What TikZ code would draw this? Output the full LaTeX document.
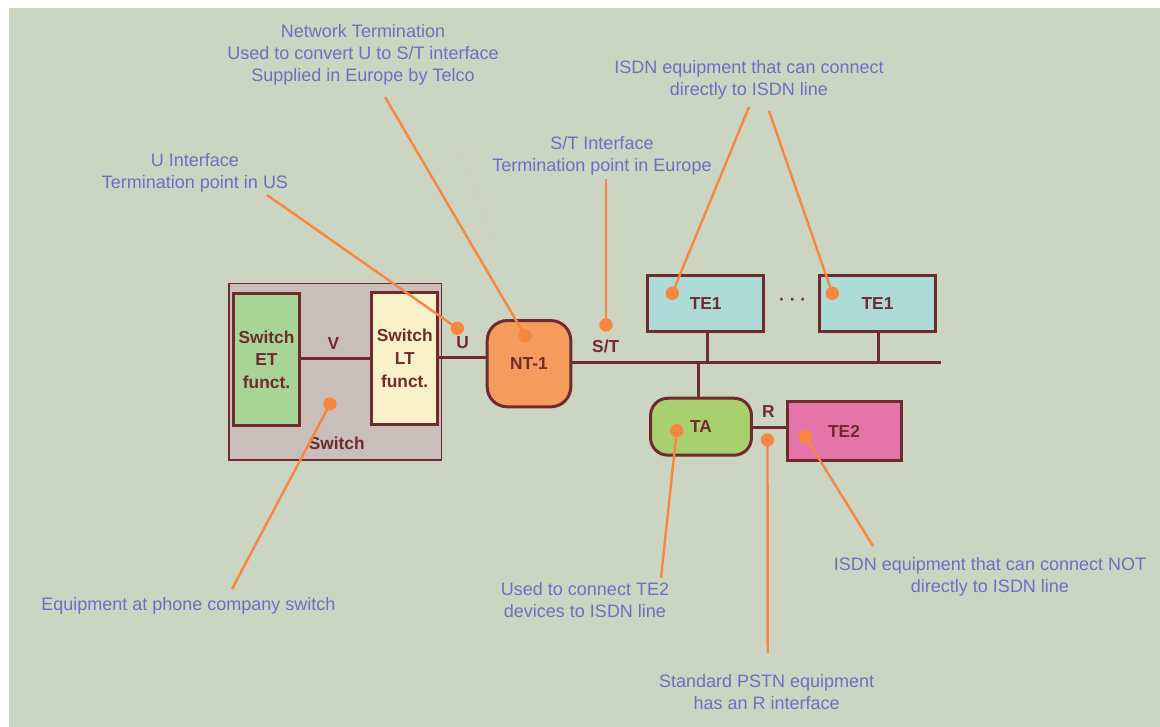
\documentclass[tikz,border=0pt]{standalone}
\usepackage{fontspec}
\setmainfont{Liberation Sans}
\usepackage{tikz}
\usetikzlibrary{positioning}

\definecolor{bgcol}{HTML}{CCD5C1}
\definecolor{brown}{HTML}{6E2C2E}
\definecolor{swgray}{HTML}{C9BEB9}
\definecolor{etgreen}{HTML}{A8D597}
\definecolor{ltcream}{HTML}{F8F0C8}
\definecolor{ntorange}{HTML}{F59B5B}
\definecolor{tecyan}{HTML}{AEDBD5}
\definecolor{tagreen}{HTML}{A9D06F}
\definecolor{tepink}{HTML}{E574A8}
\definecolor{noteblue}{HTML}{6E6EC4}
\definecolor{callout}{HTML}{F7873F}

\begin{document}
\begin{tikzpicture}[x=0.75pt, y=-0.75pt,
  unit/.style={draw=brown, line width=2.25pt, text=brown, align=center, inner sep=0pt,
    font=\bfseries\fontsize{13}{17}\selectfont},
  tag/.style={text=brown, inner sep=0pt, font=\bfseries\fontsize{13}{17}\selectfont},
  wire/.style={draw=brown, line width=2.25pt},
  note/.style={text=noteblue, align=center, inner sep=0pt, font=\fontsize{13.5}{16.5}\selectfont},
  spot/.style={circle, fill=callout, minimum size=10pt, inner sep=0pt},
  pointer/.style={draw=callout, line width=1.8pt}]
  \useasboundingbox (0,0) rectangle (1160,727);
  \fill[white] (0,0) rectangle (1160,727);
  \fill[bgcol] (9,8) rectangle (1160,727);

  \node[draw=brown, line width=1pt, fill=swgray, minimum width=159.5pt, minimum height=132.5pt] (switch) at (335.3,371.8) {};
  \node[unit, fill=etgreen, minimum width=49.5pt, minimum height=99pt] (et) at (266.5,359.5) {Switch\\ET\\funct.};
  \node[unit, fill=ltcream, minimum width=49.5pt, minimum height=99pt] (lt) at (404.7,358.2) {Switch\\LT\\funct.};
  \node[tag] (swlabel) at (336.7,443.3) {Switch};
  \node[unit, fill=ntorange, rounded corners=15pt, minimum width=62.7pt, minimum height=64.7pt] (nt) at (529,363.7) {NT-1};
  \node[unit, fill=tecyan, minimum width=87.2pt, minimum height=41.6pt] (te1a) at (705.7,303.5) {TE1};
  \node[unit, fill=tecyan, minimum width=87.2pt, minimum height=41.6pt] (te1b) at (877.5,303.5) {TE1};
  \node[tag] (more) at (792.7,302.3) {· · ·};
  \node[unit, fill=tagreen, rounded corners=13pt, minimum width=75.7pt, minimum height=42.7pt] (ta) at (701,426.7) {TA};
  \node[unit, fill=tepink, minimum width=85.5pt, minimum height=44pt] (te2) at (844,431) {TE2};

  \coordinate (vline) at (0,358.3);
  \coordinate (uline) at (0,357.7);
  \coordinate (rline) at (0,427.7);
  \coordinate (busend) at (941,362.7);
  \coordinate (stema) at (707,330);
  \coordinate (stemb) at (878.7,330);
  \coordinate (tap) at (698.3,362.7);
  \draw[wire] (et.east |- vline) -- (lt.west |- vline);
  \draw[wire] (lt.east |- uline) -- (nt.west |- uline);
  \draw[wire] (nt.east |- busend) -- (busend);
  \draw[wire] (stema |- te1a.south) -- (stema |- busend);
  \draw[wire] (stemb |- te1b.south) -- (stemb |- busend);
  \draw[wire] (tap) -- (tap |- ta.north);
  \draw[wire] (ta.east |- rline) -- (te2.west |- rline);

  \node[tag] (vlabel) at (333.3,343.3) {V};
  \node[tag] (ulabel) at (462.7,343) {U};
  \node[tag] (stlabel) at (605.7,346) {S/T};
  \node[tag] (rlabel) at (768.3,411.7) {R};

  \node[note] (ntnote) at (363,55) {Network Termination\\Used to convert U to S/T interface\\Supplied in Europe by Telco};
  \node[note] (unote) at (195,172.5) {U Interface\\Termination point in US};
  \node[note] (stnote) at (602,156) {S/T Interface\\Termination point in Europe};
  \node[note] (tenote) at (749,80) {ISDN equipment that can connect\\directly to ISDN line};
  \node[note, anchor=west] (swnote) at (41,606) {Equipment at phone company switch};
  \node[note] (tanote) at (585,600.5) {Used to connect TE2\\devices to ISDN line};
  \node[note] (rnote) at (766.7,692.5) {Standard PSTN equipment\\has an R interface};
  \node[note] (te2note) at (990,576.5) {ISDN equipment that can connect NOT\\directly to ISDN line};

  \draw[callout!60, opacity=.35, line width=1pt, dotted] (461,150) -- (492,240);

  \node[spot] (udot) at (457.3,328.3) {};
  \node[spot] (ntdot) at (525,335.7) {};
  \node[spot] (stdot) at (606,325) {};
  \node[spot] (te1adot) at (672.3,293.3) {};
  \node[spot] (te1bdot) at (832.3,293.3) {};
  \node[spot] (swdot) at (330,404) {};
  \node[spot] (tadot) at (676.7,430.7) {};
  \node[spot] (rdot) at (767.5,440) {};
  \node[spot] (te2dot) at (805.3,436.7) {};

  \coordinate (u0) at (267,195);
  \coordinate (nt0) at (385,97);
  \coordinate (st0) at (606,179);
  \coordinate (te1a0) at (749,107);
  \coordinate (te1b0) at (769,111);
  \coordinate (sw0) at (232,589);
  \coordinate (ta0) at (661,578);
  \coordinate (r0) at (767.7,653);
  \coordinate (te20) at (873,546);
  \draw[pointer] (u0) -- (udot.center);
  \draw[pointer] (nt0) -- (ntdot.center);
  \draw[pointer] (st0) -- (stdot.center);
  \draw[pointer] (te1a0) -- (te1adot.center);
  \draw[pointer] (te1b0) -- (te1bdot.center);
  \draw[pointer] (sw0) -- (swdot.center);
  \draw[pointer] (ta0) -- (tadot.center);
  \draw[pointer] (r0) -- (rdot.center);
  \draw[pointer] (te20) -- (te2dot.center);
\end{tikzpicture}
\end{document}
